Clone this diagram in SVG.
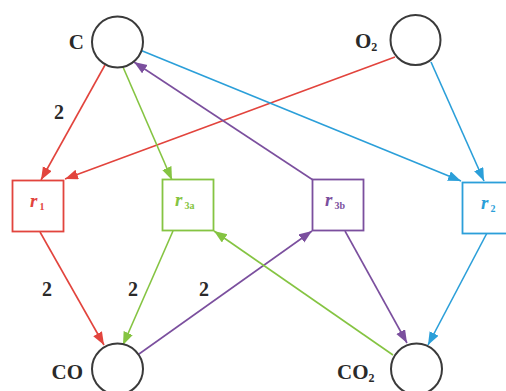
<svg xmlns="http://www.w3.org/2000/svg" width="506" height="391" viewBox="0 0 506 391">
<defs>
<style>
.sp{fill:#fff;stroke:#3a3a3a;stroke-width:2}
.lbl{font-family:"Liberation Serif","Times New Roman","DejaVu Serif",serif;font-weight:bold;font-size:21px;fill:#2a2a2a}
.sub{font-size:12px}
.num{font-family:"Liberation Serif","Times New Roman","DejaVu Serif",serif;font-weight:bold;font-size:20px;fill:#2a2a2a;text-anchor:middle}
.box{fill:#fff;stroke-width:1.8}
.rt{font-family:"Liberation Serif","Times New Roman","DejaVu Serif",serif;font-weight:bold;font-style:italic;font-size:19px}
.rs{font-size:10px;font-style:normal}
.e{fill:none;stroke-width:1.6}
.red{stroke:#e2443d}.grn{stroke:#85c442}.pur{stroke:#7b4f9e}.blu{stroke:#2b9fd9}
</style>
<marker id="aR" markerUnits="userSpaceOnUse" markerWidth="14" markerHeight="11" refX="13" refY="5" orient="auto"><path d="M0,0 L13,5 L0,10 z" fill="#e2443d"/></marker>
<marker id="aG" markerUnits="userSpaceOnUse" markerWidth="14" markerHeight="11" refX="13" refY="5" orient="auto"><path d="M0,0 L13,5 L0,10 z" fill="#85c442"/></marker>
<marker id="aP" markerUnits="userSpaceOnUse" markerWidth="14" markerHeight="11" refX="13" refY="5" orient="auto"><path d="M0,0 L13,5 L0,10 z" fill="#7b4f9e"/></marker>
<marker id="aB" markerUnits="userSpaceOnUse" markerWidth="14" markerHeight="11" refX="13" refY="5" orient="auto"><path d="M0,0 L13,5 L0,10 z" fill="#2b9fd9"/></marker>
</defs>
<rect width="506" height="391" fill="#fff"/>
<g id="connectors">
<line class="e red" x1="105" y1="65" x2="41" y2="180" marker-end="url(#aR)"/>
<line class="e red" x1="395" y1="57" x2="65" y2="179" marker-end="url(#aR)"/>
<line class="e grn" x1="123" y1="67" x2="172" y2="180" marker-end="url(#aG)"/>
<line class="e pur" x1="313" y1="180" x2="134" y2="62" marker-end="url(#aP)"/>
<line class="e blu" x1="140" y1="50" x2="461" y2="181" marker-end="url(#aB)"/>
<line class="e blu" x1="431" y1="62" x2="484" y2="181" marker-end="url(#aB)"/>
<line class="e red" x1="40" y1="232" x2="104" y2="345" marker-end="url(#aR)"/>
<line class="e grn" x1="173" y1="231" x2="123" y2="345" marker-end="url(#aG)"/>
<line class="e pur" x1="139" y1="354" x2="312" y2="231" marker-end="url(#aP)"/>
<line class="e grn" x1="393" y1="355" x2="214" y2="231" marker-end="url(#aG)"/>
<line class="e pur" x1="345" y1="231" x2="407" y2="343" marker-end="url(#aP)"/>
<line class="e blu" x1="487" y1="233" x2="428" y2="345" marker-end="url(#aB)"/>
<text class="num" x="59" y="119">2</text>
<text class="num" x="47" y="296">2</text>
<text class="num" x="133" y="296">2</text>
<text class="num" x="204" y="296">2</text>
</g>
<g id="C"><circle class="sp" cx="117.5" cy="42" r="25.5"/><text class="lbl" x="84" y="49" text-anchor="end">C</text></g>
<g id="O2"><circle class="sp" cx="415.5" cy="40" r="25"/><text class="lbl" x="355" y="48">O<tspan class="sub" dy="3">2</tspan></text></g>
<g id="CO"><circle class="sp" cx="117.5" cy="369" r="25.5"/><text class="lbl" x="83" y="379" text-anchor="end">CO</text></g>
<g id="CO2"><circle class="sp" cx="416.5" cy="369" r="25.5"/><text class="lbl" x="337" y="379">CO<tspan class="sub" dy="3">2</tspan></text></g>
<g id="r1"><rect class="box" x="12.5" y="180.5" width="51" height="51" stroke="#e2443d"/><text class="rt" x="30" y="207" fill="#e2443d">r<tspan class="rs" dx="2" dy="3">1</tspan></text></g>
<g id="r3a"><rect class="box" x="162.5" y="179.5" width="51" height="51" stroke="#85c442"/><text class="rt" x="175" y="206" fill="#85c442">r<tspan class="rs" dx="2" dy="3">3a</tspan></text></g>
<g id="r3b"><rect class="box" x="312.5" y="179.5" width="51" height="51" stroke="#7b4f9e"/><text class="rt" x="325" y="206" fill="#7b4f9e">r<tspan class="rs" dx="2" dy="3">3b</tspan></text></g>
<g id="r2"><rect class="box" x="462.5" y="182.5" width="51" height="51" stroke="#2b9fd9"/><text class="rt" x="481" y="209" fill="#2b9fd9">r<tspan class="rs" dx="2" dy="3">2</tspan></text></g>
</svg>
